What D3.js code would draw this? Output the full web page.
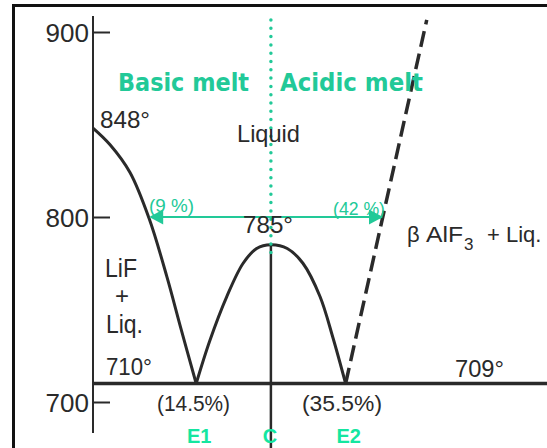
<!DOCTYPE html>
<html>
<head>
<meta charset="utf-8">
<script src="https://cdn.jsdelivr.net/npm/d3@7/dist/d3.min.js"></script>
<style>
  html, body { margin: 0; padding: 0; background: #fff; }
  svg { display: block; }
</style>
</head>
<body>
<script>
// ---- data (mol % AlF3, temperature °C) ----
const yTicks = [700, 800, 900];
const leftLiquidus = [[0, 848], [2.4, 839], [5.2, 824], [7.9, 799], [10.4, 767.5], [12.3, 740.5], [14.5, 710]];
const domeLiquidus = [[14.5, 710], [16.4, 733], [18.8, 757], [21.1, 775], [23.0, 783], [25, 785], [27.3, 783], [29.5, 775], [31.9, 757], [33.7, 735], [35.5, 710]];
const betaLiquidus = [[35.5, 710], [46.9, 906.5]];
const eutecticT = 710;
const compoundX = 25;
const compoundTop = 785;
const arrowT = 800;
const arrowFrom = 7.9;
const arrowTo = 40.75;
const eutectics = [{ name: "E1", x: 14.5 }, { name: "C", x: 25 }, { name: "E2", x: 35.5 }];

const W = 547, H = 448;
const black = "#2a2a2a";
const green = "#22c998";
const green2 = "#14e6a0";

const svg = d3.select("body").append("svg").attr("width", W).attr("height", H);

const x = d3.scaleLinear().domain([0, 63.8]).range([93, 547]);
const y = d3.scaleLinear().domain([700, 900]).range([402, 32]);

// outer frame
svg.append("path").attr("d", `M13.5,${H + 5} L13.5,5.5 L${W + 5},5.5`)
  .attr("fill", "none").attr("stroke", "#111").attr("stroke-width", 3);

// y axis
svg.append("line").attr("x1", x(0)).attr("x2", x(0)).attr("y1", y(908.6)).attr("y2", y(683.2))
  .attr("stroke", black).attr("stroke-width", 2);
const yAxis = d3.axisLeft(y).tickValues(yTicks).tickSizeInner(-17).tickSizeOuter(0).tickPadding(4);
const gy = svg.append("g").attr("transform", `translate(${x(0)},0)`).call(yAxis);
gy.select(".domain").remove();
gy.selectAll(".tick line").attr("stroke", black).attr("stroke-width", 2);
gy.selectAll(".tick text").attr("fill", black).attr("font-family", "Liberation Sans, Arial, sans-serif")
  .attr("font-size", 26).attr("dy", "0.36em");

const line = d3.line().x(d => x(d[0])).y(d => y(d[1]));

// eutectic horizontal line
svg.append("line").attr("x1", x(0)).attr("x2", W).attr("y1", y(eutecticT)).attr("y2", y(eutecticT))
  .attr("stroke", black).attr("stroke-width", 3.5);

// compound vertical line
svg.append("line").attr("x1", x(compoundX)).attr("x2", x(compoundX)).attr("y1", y(compoundTop)).attr("y2", H)
  .attr("stroke", black).attr("stroke-width", 2.5);

// liquidus curves
svg.append("path").attr("d", line.curve(d3.curveCatmullRom)(leftLiquidus))
  .attr("fill", "none").attr("stroke", black).attr("stroke-width", 3);
svg.append("path").attr("d", line.curve(d3.curveCatmullRom)(domeLiquidus))
  .attr("fill", "none").attr("stroke", black).attr("stroke-width", 3);
svg.append("path").attr("d", line.curve(d3.curveLinear)(betaLiquidus))
  .attr("fill", "none").attr("stroke", black).attr("stroke-width", 3.5).attr("stroke-dasharray", "16,7");

// green dotted divider
svg.append("line").attr("x1", x(compoundX)).attr("x2", x(compoundX)).attr("y1", y(906.5)).attr("y2", y(779))
  .attr("stroke", green).attr("stroke-width", 3.5).attr("stroke-linecap", "round").attr("stroke-dasharray", "0,8.3");

// green double arrow
const ay = y(arrowT);
svg.append("line").attr("x1", x(arrowFrom) + 10).attr("x2", x(arrowTo) - 10).attr("y1", ay).attr("y2", ay)
  .attr("stroke", green).attr("stroke-width", 2);
svg.append("path").attr("d", `M${x(arrowFrom)},${ay} l14,-7.5 l0,15 Z`).attr("fill", green);
svg.append("path").attr("d", `M${x(arrowTo)},${ay} l-14,-7.5 l0,15 Z`).attr("fill", green);

// texts
const font = "Liberation Sans, Arial, sans-serif";
function txt(s, px, py, size, opts = {}) {
  const t = svg.append("text").attr("x", px).attr("y", py).text(s)
    .attr("font-family", opts.family || font).attr("font-size", size)
    .attr("fill", opts.fill || black).attr("font-weight", opts.weight || "normal")
    .attr("text-anchor", opts.anchor || "start");
  if (opts.len) t.attr("textLength", opts.len).attr("lengthAdjust", "spacingAndGlyphs");
  return t;
}

txt("Basic melt", 118, 91, 25, { fill: green, weight: "bold", len: 131, family: "DejaVu Sans, sans-serif" });
txt("Acidic melt", 280, 91, 25, { fill: green, weight: "bold", len: 143, family: "DejaVu Sans, sans-serif" });

txt("848°", 100, 128, 24, { len: 50 });
txt("Liquid", 237, 142, 24, { len: 63 });
txt("(9 %)", 149, 212, 19, { fill: green, len: 45 });
txt("(42 %)", 333, 215, 19, { fill: green, len: 52 });
txt("785°", 243, 233, 24, { len: 50 });

txt("β", 407, 242, 22);
txt("AlF", 426, 242, 22, { len: 37 });
txt("3", 464, 250, 17);
txt("+", 487, 242, 22);
txt("Liq.", 506, 242, 22);

txt("LiF", 105, 277, 25, { len: 32 });
txt("+", 122, 304, 24, { anchor: "middle" });
txt("Liq.", 106, 333, 25, { len: 37 });
txt("710°", 106, 375, 24, { len: 46 });
txt("709°", 455, 377, 24, { len: 49 });
txt("(14.5%)", 157, 411, 22, { len: 73 });
txt("(35.5%)", 302, 411, 22, { len: 80 });

// eutectic / compound labels
svg.selectAll("text.elab").data(eutectics).enter().append("text").attr("class", "elab")
  .attr("x", d => x(d.x) + (d.name === "C" ? -1 : 3)).attr("y", 443)
  .attr("text-anchor", "middle").attr("font-family", font).attr("font-weight", "bold")
  .attr("font-size", 20).attr("fill", green2).text(d => d.name);
</script>
</body>
</html>
